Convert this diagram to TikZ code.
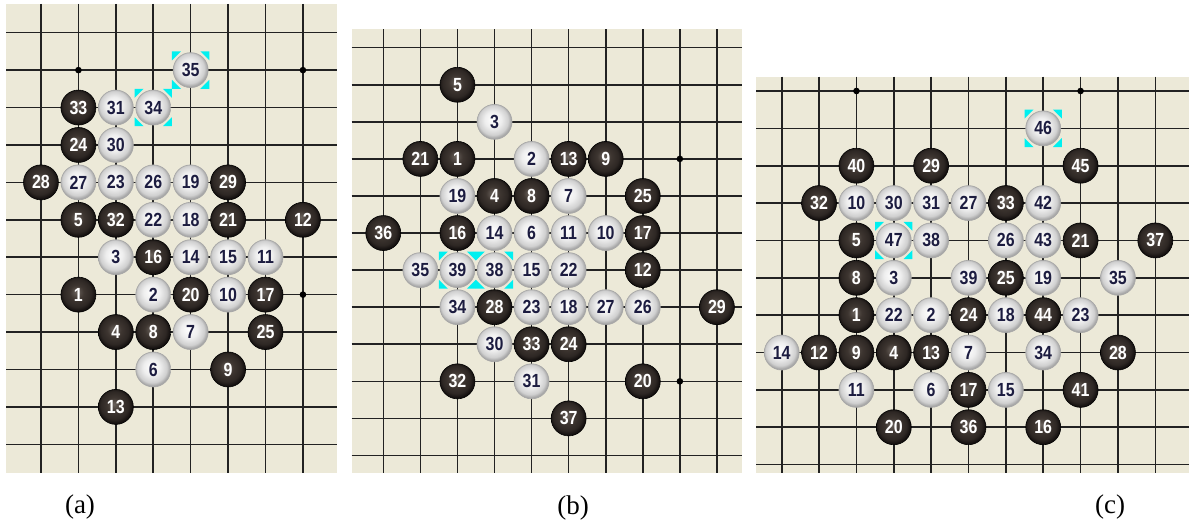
\documentclass[tikz,border=0pt]{standalone}
\usepackage{fontspec}
\setmainfont{Liberation Serif}
\newfontfamily\stonefont[FakeStretch=0.84]{Liberation Sans}

\definecolor{boardbg}{HTML}{ECE9D8}
\definecolor{gridcol}{HTML}{222222}
\definecolor{hlcyan}{HTML}{00F0F0}
\definecolor{wtext}{HTML}{1C1C40}
\definecolor{bcore}{HTML}{6A625C}
\definecolor{bmid}{HTML}{3E3631}
\definecolor{bedge}{HTML}{151110}
\definecolor{wcore}{HTML}{FFFFFF}
\definecolor{wmid}{HTML}{EEEEEE}
\definecolor{wrim}{HTML}{D0D0D0}
\definecolor{wedge}{HTML}{A8A8A8}

% stone shadings, lit slightly from the upper left
\pgfdeclareradialshading{blackstone}{\pgfpoint{-3bp}{4bp}}{%
  color(0bp)=(bcore); color(10bp)=(bmid); color(20bp)=(bmid!60!bedge); color(25bp)=(bedge); color(50bp)=(bedge)}
\pgfdeclareradialshading{whitestone}{\pgfpoint{-3bp}{4bp}}{%
  color(0bp)=(wcore); color(12bp)=(wmid); color(21bp)=(wrim); color(25bp)=(wedge); color(50bp)=(wedge)}

\tikzset{
  gridl/.style={draw=gridcol, line width=1.6pt},
  star/.style={fill=black},
  stone/.style={circle, minimum size=35pt, inner sep=0pt,
    font=\stonefont\bfseries\fontsize{19}{19}\selectfont},
  bst/.style={stone, shading=blackstone, draw=black, line width=0.6pt, text=white},
  wst/.style={stone, shading=whitestone, draw=gray!70, line width=0.6pt, text=wtext},
  caption/.style={anchor=base, font=\fontsize{27}{27}\selectfont},
  hlmark/.pic={
    \fill[hlcyan] (-0.5,-0.5) -- (-0.26,-0.5) -- (-0.5,-0.26) -- cycle;
    \fill[hlcyan] (0.5,-0.5) -- (0.26,-0.5) -- (0.5,-0.26) -- cycle;
    \fill[hlcyan] (-0.5,0.5) -- (-0.26,0.5) -- (-0.5,0.26) -- cycle;
    \fill[hlcyan] (0.5,0.5) -- (0.26,0.5) -- (0.5,0.26) -- cycle;
  }
}

\begin{document}
\begin{tikzpicture}[x=1pt,y=-1pt]
\useasboundingbox (0,0) rectangle (1189,524);
\fill[white] (0,0) rectangle (1189,524);

% ---------- board (a) ----------
\begin{scope}[shift={(41pt,-32.7pt)}, x=37.42pt, y=-37.42pt]
  \fill[boardbg] (-0.935,-0.767) rectangle (7.910,11.767);
  \foreach \i in {0,...,7} \draw[gridl] (\i,-0.767) -- (\i,11.767);
  \foreach \j in {0,...,11} \draw[gridl] (-0.935,\j) -- (7.910,\j);
  \foreach \p in {(1,1),(7,1),(7,7)} \fill[star] \p circle (3.3pt);
  \pic at (4,1) {hlmark};
  \pic at (3,2) {hlmark};
  \foreach \c/\r/\n in {1/2/33, 1/3/24, 0/4/28, 5/4/29, 1/5/5, 2/5/32, 5/5/21, 7/5/12,
      3/6/16, 1/7/1, 4/7/20, 6/7/17, 2/8/4, 3/8/8, 6/8/25, 5/9/9, 2/10/13}
    \node[bst] (a\n) at (\c,\r) {\n};
  \foreach \c/\r/\n in {4/1/35, 2/2/31, 3/2/34, 2/3/30, 1/4/27, 2/4/23, 3/4/26, 4/4/19,
      3/5/22, 4/5/18, 2/6/3, 4/6/14, 5/6/15, 6/6/11, 3/7/2, 5/7/10, 4/8/7, 3/9/6}
    \node[wst] (a\n) at (\c,\r) {\n};
\end{scope}

% ---------- board (b) ----------
\begin{scope}[shift={(383.3pt,-47.7pt)}, x=37.07pt, y=-37.07pt]
  \fill[boardbg] (-0.853,-0.496) rectangle (9.668,11.481);
  \foreach \i in {0,...,9} \draw[gridl] (\i,-0.496) -- (\i,11.481);
  \foreach \j in {0,...,11} \draw[gridl] (-0.853,\j) -- (9.668,\j);
  \foreach \p in {(8,3),(8,9)} \fill[star] \p circle (3.3pt);
  \pic at (2,6) {hlmark};
  \pic at (3,6) {hlmark};
  \foreach \c/\r/\n in {2/1/5, 1/3/21, 2/3/1, 5/3/13, 6/3/9, 3/4/4, 4/4/8, 7/4/25,
      0/5/36, 2/5/16, 7/5/17, 7/6/12, 3/7/28, 9/7/29, 4/8/33, 5/8/24, 2/9/32, 7/9/20, 5/10/37}
    \node[bst] (b\n) at (\c,\r) {\n};
  \foreach \c/\r/\n in {3/2/3, 4/3/2, 2/4/19, 5/4/7, 3/5/14, 4/5/6, 5/5/11, 6/5/10,
      1/6/35, 2/6/39, 3/6/38, 4/6/15, 5/6/22, 2/7/34, 4/7/23, 5/7/18, 6/7/27, 7/7/26,
      3/8/30, 4/9/31}
    \node[wst] (b\n) at (\c,\r) {\n};
\end{scope}

% ---------- board (c) ----------
\begin{scope}[shift={(781.7pt,-91pt)}, x=37.36pt, y=-37.36pt]
  \fill[boardbg] (-0.688,-0.383) rectangle (10.902,10.233);
  \foreach \i in {0,...,10} \draw[gridl] (\i,-0.383) -- (\i,10.233);
  \foreach \j in {0,...,10} \draw[gridl] (-0.688,\j) -- (10.902,\j);
  \foreach \p in {(2,0),(8,0)} \fill[star] \p circle (3.3pt);
  \pic at (7,1) {hlmark};
  \pic at (3,4) {hlmark};
  \foreach \c/\r/\n in {2/2/40, 4/2/29, 8/2/45, 1/3/32, 6/3/33, 2/4/5, 8/4/21, 10/4/37,
      2/5/8, 6/5/25, 2/6/1, 5/6/24, 7/6/44, 1/7/12, 2/7/9, 3/7/4, 4/7/13, 9/7/28,
      5/8/17, 8/8/41, 3/9/20, 5/9/36, 7/9/16}
    \node[bst] (c\n) at (\c,\r) {\n};
  \foreach \c/\r/\n in {7/1/46, 2/3/10, 3/3/30, 4/3/31, 5/3/27, 7/3/42, 3/4/47, 4/4/38,
      6/4/26, 7/4/43, 3/5/3, 5/5/39, 7/5/19, 9/5/35, 3/6/22, 4/6/2, 6/6/18, 8/6/23,
      0/7/14, 5/7/7, 7/7/34, 2/8/11, 4/8/6, 6/8/15}
    \node[wst] (c\n) at (\c,\r) {\n};
\end{scope}

% ---------- captions ----------
\node[caption] (capa) at (80,513) {(a)};
\node[caption] (capb) at (573,514) {(b)};
\node[caption] (capc) at (1110,513) {(c)};
\end{tikzpicture}
\end{document}
